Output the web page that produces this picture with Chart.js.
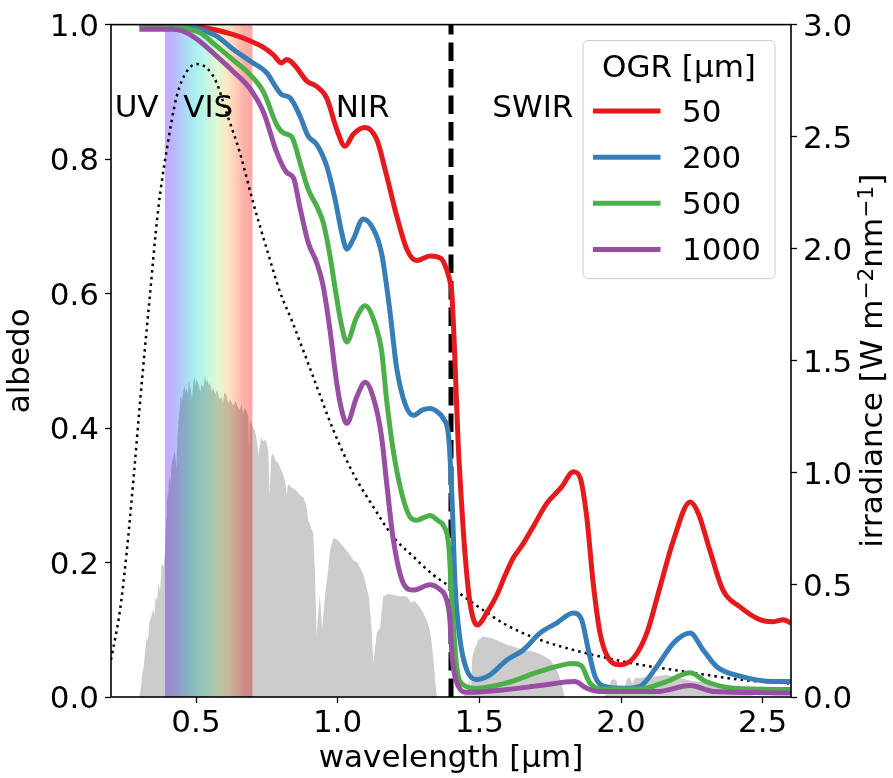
<!DOCTYPE html>
<html>
<head>
<meta charset="utf-8">
<script src="https://cdn.jsdelivr.net/npm/chart.js@4/dist/chart.umd.min.js"></script>
<style>
  html, body { margin: 0; padding: 0; background: #fff; }
  canvas { display: block; }
</style>
</head>
<body>
<canvas id="albedo-chart" width="893" height="778"></canvas>
<script>
// ── Axes ──────────────────────────────────
const xTicks       = [0.5, 1.0, 1.5, 2.0, 2.5];
const albedoTicks  = [0.0, 0.2, 0.4, 0.6, 0.8, 1.0];
const irradTicks   = [0.0, 0.5, 1.0, 1.5, 2.0, 2.5, 3.0];

// ── Spectral regions ──────────────────────
const regionNames  = ['UV', 'VIS', 'NIR', 'SWIR'];
const regionStarts = [0.213, 0.455, 0.993, 1.546];
const regionLevel  = 0.862;
const visBand      = [0.39, 0.70];
const visColors    = ['#c8a8ff', '#bcb6ff', '#b0d0f8', '#a8e8f0', '#b0f4ec',
                      '#c8f8e0', '#e0f8d0', '#f8eac8', '#ffd0b8', '#ffb0a8', '#ffa8a4'];
const swirEdge     = 1.4;

// ── Albedo per optical grain radius [µm] ──
const grainSizes  = ['50', '200', '500', '1000'];
const grainColors = ['#e41a1c', '#377eb8', '#4daf4a', '#984ea3'];

const albedo50 = [
  [0.3, 1.0], [0.45, 1.0], [0.514, 0.997], [0.57, 0.992], [0.632, 0.985], [0.69, 0.976],
  [0.738, 0.966], [0.773, 0.955], [0.802, 0.943], [0.82, 0.948], [0.832, 0.946],
  [0.855, 0.936], [0.891, 0.916], [0.926, 0.908], [0.961, 0.891], [0.997, 0.844],
  [1.026, 0.819], [1.055, 0.837], [1.097, 0.847], [1.138, 0.829], [1.173, 0.775],
  [1.208, 0.716], [1.244, 0.666], [1.279, 0.649], [1.326, 0.656], [1.365, 0.652],
  [1.385, 0.635], [1.397, 0.617], [1.403, 0.60], [1.414, 0.50], [1.425, 0.38],
  [1.437, 0.29], [1.45, 0.21], [1.467, 0.14], [1.493, 0.107], [1.526, 0.125],
  [1.561, 0.151], [1.591, 0.181], [1.62, 0.207], [1.65, 0.225], [1.691, 0.254],
  [1.738, 0.288], [1.79, 0.312], [1.832, 0.335], [1.855, 0.327], [1.879, 0.268],
  [1.902, 0.169], [1.926, 0.095], [1.955, 0.058], [1.997, 0.048], [2.044, 0.058],
  [2.091, 0.095], [2.138, 0.164], [2.185, 0.233], [2.244, 0.29], [2.273, 0.273],
  [2.313, 0.219], [2.36, 0.159], [2.42, 0.134], [2.49, 0.115], [2.538, 0.112],
  [2.573, 0.115], [2.6, 0.11]
];

const albedo200 = [
  [0.3, 1.0], [0.43, 1.0], [0.467, 0.998], [0.514, 0.993], [0.573, 0.983], [0.632, 0.963],
  [0.69, 0.946], [0.75, 0.928], [0.785, 0.905], [0.802, 0.896], [0.832, 0.891],
  [0.867, 0.864], [0.896, 0.834], [0.926, 0.822], [0.961, 0.79], [0.991, 0.74],
  [1.014, 0.691], [1.032, 0.666], [1.055, 0.681], [1.09, 0.711], [1.126, 0.696],
  [1.155, 0.66], [1.184, 0.575], [1.208, 0.49], [1.238, 0.436], [1.267, 0.419],
  [1.3, 0.427], [1.326, 0.429], [1.355, 0.423], [1.373, 0.414], [1.392, 0.385],
  [1.405, 0.28], [1.414, 0.17], [1.432, 0.085], [1.455, 0.041], [1.49, 0.026],
  [1.538, 0.033], [1.597, 0.055], [1.655, 0.07], [1.714, 0.095], [1.773, 0.11],
  [1.832, 0.125], [1.861, 0.115], [1.885, 0.07], [1.908, 0.031], [1.938, 0.016],
  [2.008, 0.013], [2.067, 0.016], [2.126, 0.045], [2.185, 0.08], [2.244, 0.095],
  [2.29, 0.07], [2.338, 0.045], [2.42, 0.031], [2.538, 0.023], [2.6, 0.023]
];

const albedo500 = [
  [0.3, 1.0], [0.40, 1.0], [0.444, 0.998], [0.479, 0.993], [0.514, 0.988], [0.573, 0.968],
  [0.632, 0.947], [0.69, 0.926], [0.738, 0.90], [0.785, 0.851], [0.808, 0.839],
  [0.838, 0.833], [0.867, 0.795], [0.896, 0.755], [0.926, 0.73], [0.949, 0.706],
  [0.973, 0.656], [0.997, 0.592], [1.015, 0.55], [1.032, 0.528], [1.067, 0.565],
  [1.097, 0.582], [1.132, 0.555], [1.155, 0.515], [1.173, 0.441], [1.196, 0.367],
  [1.226, 0.303], [1.255, 0.268], [1.279, 0.263], [1.326, 0.27], [1.355, 0.262],
  [1.373, 0.255], [1.392, 0.225], [1.405, 0.13], [1.42, 0.045], [1.444, 0.018],
  [1.49, 0.013], [1.597, 0.021], [1.714, 0.038], [1.832, 0.05], [1.861, 0.046],
  [1.89, 0.021], [1.926, 0.012], [2.067, 0.012], [2.161, 0.023], [2.244, 0.036],
  [2.30, 0.023], [2.397, 0.013], [2.6, 0.011]
];

const albedo1000 = [
  [0.3, 0.993], [0.42, 0.993], [0.467, 0.988], [0.514, 0.975], [0.573, 0.953], [0.632, 0.93],
  [0.69, 0.905], [0.738, 0.87], [0.785, 0.81], [0.82, 0.78], [0.844, 0.772],
  [0.867, 0.728], [0.896, 0.676], [0.926, 0.646], [0.947, 0.615], [0.97, 0.555],
  [0.997, 0.466], [1.015, 0.425], [1.032, 0.407], [1.067, 0.446], [1.097, 0.468],
  [1.132, 0.436], [1.155, 0.387], [1.173, 0.318], [1.196, 0.235], [1.232, 0.169],
  [1.267, 0.159], [1.326, 0.167], [1.361, 0.16], [1.38, 0.15], [1.395, 0.12],
  [1.405, 0.055], [1.426, 0.016], [1.455, 0.007], [1.597, 0.011], [1.714, 0.017],
  [1.837, 0.023], [1.879, 0.013], [1.926, 0.008], [2.126, 0.008], [2.244, 0.017],
  [2.33, 0.008], [2.6, 0.006]
];

// ── Irradiance [W m-2 nm-1] ───────────────
const solarSpectrum = [
  [0.28, 0], [0.30, 0.0], [0.305, 0.04], [0.31, 0.1], [0.315, 0.13], [0.32, 0.2],
  [0.326, 0.27], [0.33, 0.25], [0.335, 0.33], [0.342, 0.36], [0.349, 0.39],
  [0.353, 0.37], [0.358, 0.45], [0.363, 0.43], [0.367, 0.51], [0.373, 0.47],
  [0.379, 0.60], [0.385, 0.58], [0.39, 0.64], [0.393, 0.72], [0.395, 0.80],
  [0.397, 0.91], [0.401, 0.88], [0.405, 0.98], [0.41, 0.96], [0.414, 1.04],
  [0.42, 1.07], [0.425, 1.10], [0.431, 1.02], [0.434, 1.15], [0.438, 1.23],
  [0.442, 1.28], [0.446, 1.345], [0.45, 1.32], [0.455, 1.36], [0.46, 1.39],
  [0.463, 1.36], [0.467, 1.38], [0.471, 1.35], [0.475, 1.41], [0.48, 1.38],
  [0.486, 1.33], [0.49, 1.40], [0.495, 1.43], [0.498, 1.39], [0.502, 1.42],
  [0.508, 1.40], [0.515, 1.36], [0.52, 1.40], [0.526, 1.38], [0.532, 1.44],
  [0.536, 1.40], [0.54, 1.42], [0.545, 1.39], [0.55, 1.40], [0.556, 1.36],
  [0.561, 1.38], [0.568, 1.35], [0.575, 1.37], [0.582, 1.33], [0.59, 1.34],
  [0.595, 1.31], [0.6, 1.36], [0.608, 1.345], [0.614, 1.31], [0.62, 1.33],
  [0.63, 1.30], [0.64, 1.32], [0.648, 1.29], [0.655, 1.28], [0.66, 1.31],
  [0.666, 1.26], [0.672, 1.29], [0.68, 1.27], [0.685, 1.25], [0.687, 1.10],
  [0.69, 1.24], [0.696, 1.22], [0.702, 1.20], [0.708, 1.19], [0.714, 1.15],
  [0.72, 1.08], [0.725, 1.12], [0.731, 1.16], [0.738, 1.14], [0.745, 1.15],
  [0.75, 1.13], [0.755, 1.10], [0.76, 0.90], [0.765, 1.07], [0.773, 1.087],
  [0.779, 1.06], [0.785, 1.05], [0.792, 1.04], [0.802, 1.01], [0.808, 0.99],
  [0.815, 0.96], [0.82, 0.90], [0.825, 0.95], [0.832, 0.94], [0.843, 0.93],
  [0.855, 0.92], [0.867, 0.90], [0.879, 0.89], [0.885, 0.87], [0.89, 0.85],
  [0.896, 0.79], [0.905, 0.76], [0.914, 0.73], [0.92, 0.55], [0.926, 0.27],
  [0.93, 0.35], [0.937, 0.46], [0.945, 0.30], [0.955, 0.45], [0.965, 0.55],
  [0.973, 0.655], [0.985, 0.71], [1.0, 0.70], [1.02, 0.67], [1.04, 0.64],
  [1.055, 0.61], [1.07, 0.60], [1.09, 0.55], [1.1, 0.50], [1.11, 0.45],
  [1.12, 0.30], [1.126, 0.15], [1.132, 0.22], [1.138, 0.285], [1.15, 0.31],
  [1.155, 0.38], [1.161, 0.45], [1.18, 0.46], [1.196, 0.455], [1.22, 0.45],
  [1.244, 0.45], [1.26, 0.42], [1.27, 0.43], [1.29, 0.40], [1.30, 0.38],
  [1.314, 0.344], [1.325, 0.30], [1.332, 0.24], [1.34, 0.14], [1.344, 0.077],
  [1.35, 0.0], [1.44, 0.0], [1.455, 0.02], [1.465, 0.08], [1.47, 0.03],
  [1.475, 0.18], [1.485, 0.22], [1.497, 0.255], [1.514, 0.27], [1.53, 0.265],
  [1.55, 0.26], [1.575, 0.245], [1.596, 0.233], [1.62, 0.225], [1.655, 0.21],
  [1.68, 0.205], [1.70, 0.20], [1.725, 0.185], [1.75, 0.166], [1.765, 0.14],
  [1.778, 0.107], [1.79, 0.06], [1.796, 0.03], [1.80, 0.0], [1.94, 0.0],
  [1.955, 0.03], [1.965, 0.075], [1.975, 0.08], [1.985, 0.07], [1.992, 0.02],
  [2.0, 0.01], [2.01, 0.03], [2.02, 0.077], [2.03, 0.09], [2.04, 0.06],
  [2.05, 0.085], [2.067, 0.085], [2.09, 0.09], [2.114, 0.09], [2.14, 0.095],
  [2.16, 0.099], [2.185, 0.09], [2.21, 0.085], [2.255, 0.07], [2.30, 0.065],
  [2.36, 0.055], [2.42, 0.04], [2.455, 0.01], [2.48, 0.0], [2.6, 0.0]
];

const blackbody = [
  [0.2, 0.166], [0.232, 0.389], [0.255, 0.641], [0.279, 0.967], [0.302, 1.308],
  [0.32, 1.56], [0.332, 1.72], [0.367, 2.18], [0.397, 2.443], [0.432, 2.68],
  [0.467, 2.79], [0.502, 2.824], [0.538, 2.806], [0.573, 2.74], [0.608, 2.606],
  [0.655, 2.428], [0.702, 2.205], [0.75, 1.998], [0.797, 1.805], [0.838, 1.68],
  [0.914, 1.427], [0.985, 1.19], [1.055, 0.997], [1.126, 0.848], [1.196, 0.715],
  [1.267, 0.626], [1.338, 0.544], [1.397, 0.492], [1.479, 0.418], [1.597, 0.32],
  [1.714, 0.255], [1.832, 0.21], [1.95, 0.174], [2.067, 0.144], [2.185, 0.121],
  [2.30, 0.099], [2.42, 0.077], [2.6, 0.06]
];

// ── Helpers ───────────────────────────────
const FONT_FAMILY = "'DejaVu Sans', sans-serif";
const FONT_SIZE   = 31;
const FONT        = `${FONT_SIZE}px ${FONT_FAMILY}`;
const LINE_WIDTH  = 5;

const toPoints = pairs => pairs.map(([x, y]) => ({ x, y }));

function visGradient(context) {
  const chart = context.chart;
  if (!chart.chartArea) return 'rgba(0,0,0,0)';
  const xs = chart.scales.x;
  const x0 = xs.getPixelForValue(visBand[0]);
  const x1 = xs.getPixelForValue(visBand[1]);
  const g = chart.ctx.createLinearGradient(x0, 0, x1, 0);
  visColors.forEach((c, i) => g.addColorStop(i / (visColors.length - 1), c));
  return g;
}

// ── Plugins ───────────────────────────────
const frame = {
  id: 'frame',
  afterDatasetsDraw(chart) {
    const { ctx, chartArea: a } = chart;
    ctx.save();
    ctx.strokeStyle = '#000';
    ctx.lineWidth = 1.6;
    ctx.strokeRect(a.left, a.top, a.right - a.left, a.bottom - a.top);
    ctx.restore();
  }
};

const regionLabels = {
  id: 'regionLabels',
  afterDatasetsDraw(chart) {
    const { ctx, scales } = chart;
    ctx.save();
    ctx.font = FONT;
    ctx.fillStyle = '#000';
    ctx.textAlign = 'left';
    ctx.textBaseline = 'alphabetic';
    regionNames.forEach((name, i) => {
      ctx.fillText(name, scales.x.getPixelForValue(regionStarts[i]),
                   scales.y.getPixelForValue(regionLevel));
    });
    ctx.restore();
  }
};

const irradianceTitle = {
  id: 'irradianceTitle',
  afterDraw(chart) {
    const { ctx, chartArea: a } = chart;
    const supSize = FONT_SIZE * 0.7;
    const parts = [
      ['irradiance [W m', false], ['\u22122', true], ['nm', false], ['\u22121', true], [']', false]
    ];
    ctx.save();
    const widths = parts.map(([t, sup]) => {
      ctx.font = `${sup ? supSize : FONT_SIZE}px ${FONT_FAMILY}`;
      return ctx.measureText(t).width;
    });
    const total = widths.reduce((s, w) => s + w, 0);
    ctx.translate(a.right + 91, (a.top + a.bottom) / 2);
    ctx.rotate(-Math.PI / 2);
    ctx.fillStyle = '#000';
    ctx.textBaseline = 'alphabetic';
    let x = -total / 2;
    parts.forEach(([t, sup], i) => {
      ctx.font = `${sup ? supSize : FONT_SIZE}px ${FONT_FAMILY}`;
      ctx.fillText(t, x, sup ? -FONT_SIZE * 0.3 : 0);
      x += widths[i];
    });
    ctx.restore();
  }
};

const grainLegend = {
  id: 'grainLegend',
  afterDraw(chart) {
    const { ctx, chartArea: a } = chart;
    const w = 192, h = 238;
    const left = a.right - 16 - w;
    const top  = a.top + 16;
    ctx.save();
    ctx.beginPath();
    ctx.roundRect(left, top, w, h, 5);
    ctx.fillStyle = 'rgba(255,255,255,0.8)';
    ctx.fill();
    ctx.strokeStyle = '#cccccc';
    ctx.lineWidth = 1;
    ctx.stroke();

    ctx.font = FONT;
    ctx.fillStyle = '#000';
    ctx.textBaseline = 'alphabetic';
    ctx.textAlign = 'center';
    ctx.fillText('OGR [µm]', left + w / 2, top + 36);

    ctx.textAlign = 'left';
    chart.data.datasets.filter(d => grainSizes.includes(d.label)).forEach((d, i) => {
      const y = top + 70.5 + i * 46.1;
      ctx.beginPath();
      ctx.moveTo(left + 10, y);
      ctx.lineTo(left + 77.5, y);
      ctx.strokeStyle = d.borderColor;
      ctx.lineWidth = LINE_WIDTH;
      ctx.stroke();
      ctx.fillStyle = '#000';
      ctx.fillText(d.label, left + 99, y + 11);
    });
    ctx.restore();
  }
};

// ── Datasets ──────────────────────────────
const albedoSets = [albedo50, albedo200, albedo500, albedo1000].map((series, i) => ({
  label: grainSizes[i],
  data: toPoints(series),
  yAxisID: 'y',
  borderColor: grainColors[i],
  borderWidth: LINE_WIDTH,
  borderJoinStyle: 'round',
  pointRadius: 0,
  fill: false,
  cubicInterpolationMode: 'monotone',
  clip: 0,
  order: 4 - i
}));

const datasets = [
  ...albedoSets,
  {
    label: 'SWIR edge',
    data: [{ x: swirEdge, y: 0 }, { x: swirEdge, y: 1 }],
    yAxisID: 'y',
    borderColor: '#000',
    borderWidth: 5,
    borderDash: [18.5, 8],
    pointRadius: 0,
    fill: false,
    clip: 0,
    order: 7
  },
  {
    label: 'blackbody',
    data: toPoints(blackbody),
    yAxisID: 'y2',
    borderColor: '#000',
    borderWidth: 2.5,
    borderDash: [2.5, 4.1],
    pointRadius: 0,
    fill: false,
    cubicInterpolationMode: 'monotone',
    clip: 0,
    order: 8
  },
  {
    label: 'solar',
    data: toPoints(solarSpectrum),
    yAxisID: 'y2',
    borderColor: 'rgba(0,0,0,0)',
    borderWidth: 0,
    backgroundColor: 'rgba(0,0,0,0.2)',
    pointRadius: 0,
    fill: 'origin',
    tension: 0,
    order: 9
  },
  {
    label: 'visible',
    data: [{ x: visBand[0], y: 1 }, { x: visBand[1], y: 1 }],
    yAxisID: 'y',
    borderColor: 'rgba(0,0,0,0)',
    borderWidth: 0,
    backgroundColor: visGradient,
    pointRadius: 0,
    fill: 'origin',
    order: 10
  }
];

// ── Chart ─────────────────────────────────
Chart.defaults.font.family = FONT_FAMILY;
Chart.defaults.font.size = FONT_SIZE;
Chart.defaults.color = '#000';

const tickGrid = { drawOnChartArea: false, tickLength: 6, tickWidth: 1.3, tickColor: '#000' };

new Chart(document.getElementById('albedo-chart'), {
  type: 'line',
  data: { datasets },
  options: {
    responsive: false,
    animation: false,
    events: [],
    layout: { padding: { top: 23, left: 0, right: 0, bottom: 0 } },
    plugins: {
      legend: { display: false },
      tooltip: { enabled: false }
    },
    scales: {
      x: {
        type: 'linear',
        position: 'bottom',
        min: 0.2,
        max: 2.6,
        afterFit: s => { s.height = 81; },
        afterBuildTicks: s => { s.ticks = xTicks.map(v => ({ value: v })); },
        ticks: { callback: v => v.toFixed(1), autoSkip: false, maxRotation: 0, padding: 2 },
        grid: tickGrid,
        border: { display: false },
        title: { display: true, text: 'wavelength [µm]', padding: { top: 0, bottom: 0 } }
      },
      y: {
        type: 'linear',
        position: 'left',
        min: 0,
        max: 1,
        afterFit: s => { s.width = 111; },
        afterBuildTicks: s => { s.ticks = albedoTicks.map(v => ({ value: v })); },
        ticks: { callback: v => v.toFixed(1), padding: 6, labelOffset: 3 },
        grid: tickGrid,
        border: { display: false },
        title: { display: true, text: 'albedo', padding: { top: 2, bottom: 0 } }
      },
      y2: {
        type: 'linear',
        position: 'right',
        min: 0,
        max: 3,
        afterFit: s => { s.width = 102; },
        afterBuildTicks: s => { s.ticks = irradTicks.map(v => ({ value: v })); },
        ticks: { callback: v => v.toFixed(1), padding: 6, labelOffset: 3 },
        grid: tickGrid,
        border: { display: false }
      }
    }
  },
  plugins: [frame, regionLabels, irradianceTitle, grainLegend]
});
</script>
</body>
</html>
